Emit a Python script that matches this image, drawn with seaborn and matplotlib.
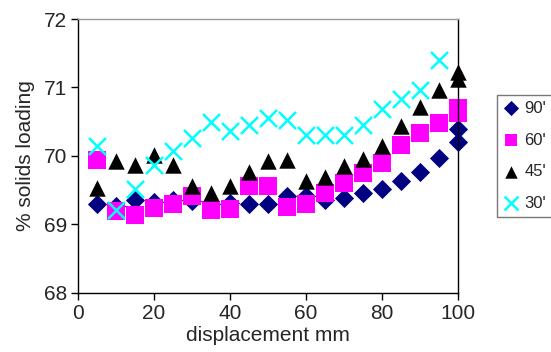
import matplotlib
matplotlib.use("Agg")
import matplotlib.pyplot as plt
import seaborn as sns
import pandas as pd

x_main = [5, 10, 15, 20, 25, 30, 35, 40, 45, 50, 55, 60, 65, 70, 75, 80, 85, 90, 95, 100, 100]
x_30 = [5, 10, 15, 20, 25, 30, 35, 40, 45, 50, 55, 60, 65, 70, 75, 80, 85, 90, 95]

y_90 = [69.30, 69.27, 69.36, 69.32, 69.35, 69.34, 69.30, 69.31, 69.30, 69.30, 69.41,
        69.41, 69.36, 69.38, 69.46, 69.51, 69.63, 69.76, 69.97, 70.21, 70.40]
y_60 = [69.94, 69.19, 69.14, 69.24, 69.30, 69.41, 69.21, 69.22, 69.56, 69.56, 69.26,
        69.30, 69.46, 69.60, 69.75, 69.90, 70.16, 70.33, 70.48, 70.62, 70.70]
y_45 = [69.53, 69.92, 69.87, 70.02, 69.87, 69.56, 69.46, 69.56, 69.76, 69.93, 69.94,
        69.63, 69.69, 69.85, 69.95, 70.15, 70.44, 70.72, 70.96, 71.13, 71.23]
y_30 = [70.14, 69.21, 69.51, 69.87, 70.07, 70.26, 70.49, 70.36, 70.45, 70.55, 70.53,
        70.31, 70.31, 70.31, 70.45, 70.68, 70.83, 70.96, 71.40]

labels = ["90'", "60'", "45'", "30'"]
x_ticks = [0, 20, 40, 60, 80, 100]
y_ticks = [68, 69, 70, 71, 72]

sns.set_style("white")
plt.rcParams['font.family'] = ['Liberation Sans', 'DejaVu Sans']

fig = plt.figure(figsize=(5.51, 3.52), dpi=100)
ax = fig.add_axes([0.1416, 0.168, 0.6894, 0.778])

series = [
    (x_main, y_90, labels[0], "D", "#000080", 95),
    (x_main, y_60, labels[1], "s", "#FF00FF", 185),
    (x_main, y_45, labels[2], "^", "#000000", 140),
    (x_30, y_30, labels[3], "x", "#00FFFF", 150),
]
for xs, ys, lab, mk, col, s in series:
    df = pd.DataFrame({"x": xs, "y": ys})
    lw = 1.8 if mk == "x" else 0
    sns.scatterplot(data=df, x="x", y="y", marker=mk, color=col, s=s,
                    linewidth=lw, ax=ax, label=lab, clip_on=False)

ax.set_xlim(0, 100)
ax.set_ylim(68, 72)
ax.set_xticks(x_ticks)
ax.set_yticks(y_ticks)
ax.set_xlabel("displacement mm", fontsize=15, labelpad=2)
ax.set_ylabel("% solids loading", fontsize=15, labelpad=6)
ax.tick_params(axis="both", labelsize=15, direction="out", length=5, width=1,
               color="black", left=True, bottom=True, pad=3)
for sp in ax.spines.values():
    sp.set_color("black")
    sp.set_linewidth(1)
ax.spines["top"].set_color("#999999")

leg = ax.legend(loc="upper left", bbox_to_anchor=(0.902, 0.73),
                bbox_transform=fig.transFigure, fontsize=12, frameon=True,
                fancybox=False, edgecolor="#555555", borderpad=0.35,
                labelspacing=1.0, handletextpad=0.3, handlelength=1.0,
                borderaxespad=0)
leg.get_frame().set_linewidth(1)
sizes = [60, 85, 80, 100]
for h, sz in zip(leg.legend_handles, sizes):
    try:
        h.set_sizes([sz])
    except Exception:
        pass

fig.savefig("out.png", dpi=100)
